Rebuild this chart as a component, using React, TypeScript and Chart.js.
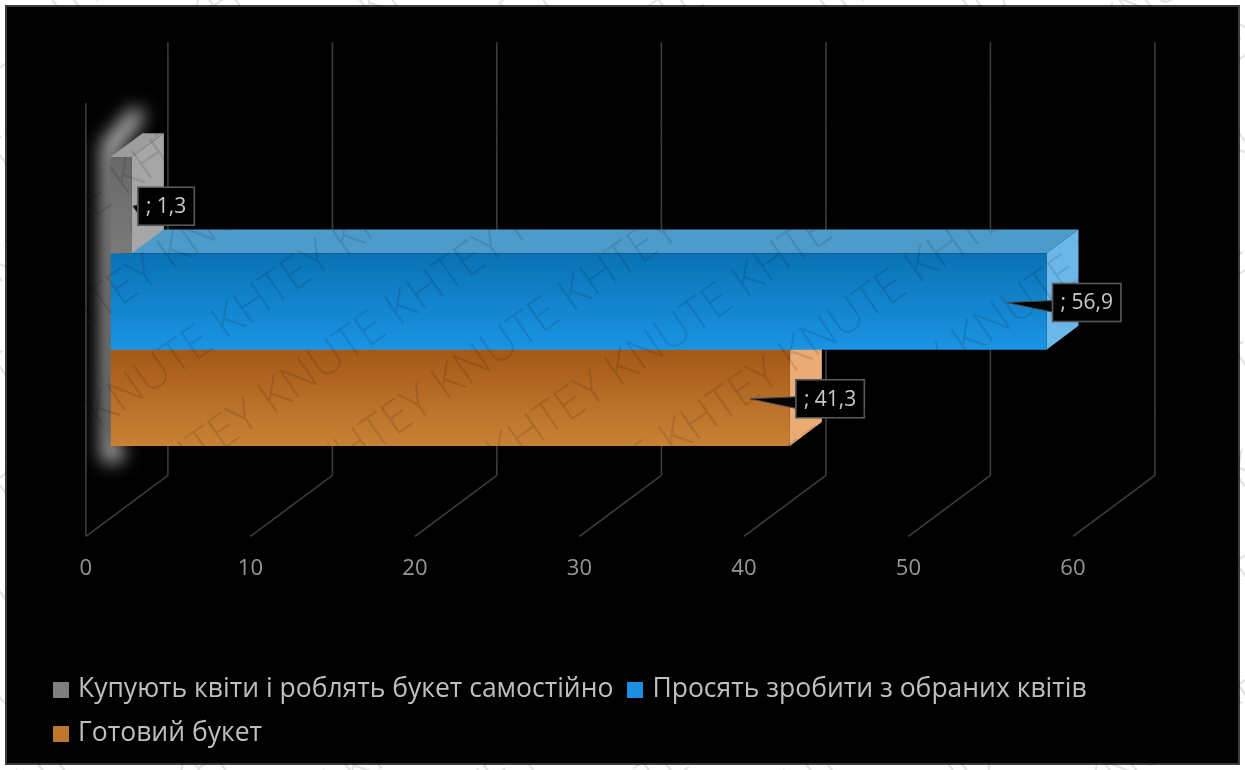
import React, { useEffect, useRef } from "react";
import { Chart, registerables } from "chart.js";

Chart.register(...registerables);

// ---------- data ----------
const categories = [""];
const seriesNames = [
  "Купують квіти і роблять букет самостійно",
  "Просять зробити з обраних квітів",
  "Готовий букет",
];
const seriesValues = [1.3, 56.9, 41.3];
const tickValues = [0, 10, 20, 30, 40, 50, 60];

// ---------- styles ----------
const FRONT_TOP = ["#686868", "#0a72b4", "#a45917"];
const FRONT_BOTTOM = ["#7a7a7a", "#1b94e4", "#c98136"];
const TOP_FACE = ["#9d9d9d", "#4c9bcb", "#cf8945"];
const SIDE_FACE = ["#a6a6a6", "#6cb7e9", "#eaab74"];
const LEGEND_COLOR = ["#7f7f7f", "#1d8fe0", "#c0752c"];

const FONT = "'Open Sans', 'DejaVu Sans', sans-serif";
const DEPTH = { x: 82, y: -61 };
const FRONT_SHIFT = 0.3;
const BAR_DEPTH = 0.39;
const CAT_PCT = 0.667;

function fmt(v: number) {
  return "; " + v.toFixed(1).replace(".", ",");
}

function frontFill(i: number) {
  return (c: any) => {
    const chart = c.chart;
    const a = chart.chartArea;
    if (!a || !chart.scales || !chart.scales.y) return FRONT_BOTTOM[i];
    const ys = chart.scales.y;
    const center = ys.getPixelForValue(c.dataIndex || 0);
    const band = ((a.bottom - a.top) / categories.length) * CAT_PCT;
    const h = band / seriesValues.length;
    const t = center - band / 2 + i * h;
    const g = chart.ctx.createLinearGradient(0, t, 0, t + h);
    g.addColorStop(0, FRONT_TOP[i]);
    g.addColorStop(1, FRONT_BOTTOM[i]);
    return g;
  };
}

function poly(ctx: CanvasRenderingContext2D, pts: number[][]) {
  ctx.beginPath();
  ctx.moveTo(pts[0][0], pts[0][1]);
  for (let k = 1; k < pts.length; k++) ctx.lineTo(pts[k][0], pts[k][1]);
  ctx.closePath();
}

function seg(ctx: CanvasRenderingContext2D, x1: number, y1: number, x2: number, y2: number) {
  ctx.beginPath();
  ctx.moveTo(x1, y1);
  ctx.lineTo(x2, y2);
  ctx.stroke();
}

const plugin3d = {
  id: "fake3d",
  beforeDatasetsDraw(chart: any) {
    const { ctx, chartArea: a, scales } = chart;
    const xs = scales.x;
    const fx = -DEPTH.x * FRONT_SHIFT;
    const fy = -DEPTH.y * FRONT_SHIFT;
    const bx = DEPTH.x * (1 - FRONT_SHIFT);
    const by = DEPTH.y * (1 - FRONT_SHIFT);
    const floorFront = a.bottom + fy;
    const floorBack = a.bottom + by;
    const topFront = a.top + fy;
    const topBack = a.top + by;

    ctx.save();
    ctx.strokeStyle = "#3d3d3d";
    ctx.lineWidth = 1.6;
    const x0 = xs.getPixelForValue(tickValues[0]);
    seg(ctx, x0 + fx, topFront, x0 + fx, floorFront);
    tickValues.forEach((v) => {
      const px = xs.getPixelForValue(v);
      seg(ctx, px + bx, topBack, px + bx, floorBack);
      seg(ctx, px + fx, floorFront, px + bx, floorBack);
    });
    ctx.restore();

    // bars geometry
    const els = chart.data.datasets.map((_: any, i: number) =>
      chart.getDatasetMeta(i).data[0].getProps(["x", "y", "base", "height"], true)
    );
    const dx = DEPTH.x * BAR_DEPTH;
    const dy = DEPTH.y * BAR_DEPTH;
    const T = els[0].y - els[0].height / 2;
    const last = els[els.length - 1];
    const B = last.y + last.height / 2;
    const gx = els[0].base;

    // soft glow on the left of the bar block
    ctx.save();
    ctx.filter = "blur(9px)";
    ctx.fillStyle = "rgba(215,215,215,0.85)";
    poly(ctx, [
      [gx - 9, T - 14],
      [gx + 22, T - 50],
      [gx + 36, T - 42],
      [gx + 6, T - 2],
      [gx + 4, B],
      [gx + 16, B + 2],
      [gx + 10, B + 16],
      [gx - 9, B + 16],
    ]);
    ctx.fill();
    ctx.restore();

    // top and side faces, drawn from the lowest bar up
    ctx.save();
    for (let i = els.length - 1; i >= 0; i--) {
      const e = els[i];
      const top = e.y - e.height / 2;
      const bot = e.y + e.height / 2;
      ctx.fillStyle = TOP_FACE[i];
      poly(ctx, [
        [e.base, top],
        [e.x, top],
        [e.x + dx, top + dy],
        [e.base + dx, top + dy],
      ]);
      ctx.fill();
      ctx.fillStyle = SIDE_FACE[i];
      poly(ctx, [
        [e.x, top],
        [e.x + dx, top + dy],
        [e.x + dx, bot + dy],
        [e.x, bot],
      ]);
      ctx.fill();
    }
    ctx.restore();
  },
  afterDatasetsDraw(chart: any) {
    const { ctx, chartArea: a, scales } = chart;
    const xs = scales.x;
    const fx = -DEPTH.x * FRONT_SHIFT;
    const fy = -DEPTH.y * FRONT_SHIFT;

    // axis tick labels on the front edge of the floor
    ctx.save();
    ctx.font = `22px ${FONT}`;
    ctx.fillStyle = "#989898";
    ctx.textAlign = "center";
    ctx.textBaseline = "middle";
    tickValues.forEach((v) => {
      ctx.fillText(String(v), xs.getPixelForValue(v) + fx, a.bottom + fy + 32);
    });
    ctx.restore();

    // data label callouts
    ctx.save();
    ctx.font = `21px ${FONT}`;
    chart.data.datasets.forEach((_: any, i: number) => {
      const e = chart.getDatasetMeta(i).data[0].getProps(["x", "y", "base"], true);
      const txt = fmt(seriesValues[i]);
      const tw = ctx.measureText(txt).width;
      const bw = tw + 16;
      const bh = 38;
      const left = e.x + 6;
      const cy = e.y + 1;
      const tipX = left - 46 > e.base + 10 ? left - 46 : e.x + 1;
      ctx.fillStyle = "#050505";
      ctx.strokeStyle = "#4a4a4a";
      ctx.lineWidth = 1;
      poly(ctx, [
        [tipX, cy],
        [left + 2, cy - 2],
        [left + 2, cy + 10],
      ]);
      ctx.fill();
      ctx.stroke();
      ctx.fillStyle = "#000";
      ctx.fillRect(left, cy - bh / 2, bw, bh);
      ctx.strokeStyle = "#5a5a5a";
      ctx.lineWidth = 1.6;
      ctx.strokeRect(left, cy - bh / 2, bw, bh);
      ctx.fillStyle = "#cacaca";
      ctx.textAlign = "center";
      ctx.textBaseline = "middle";
      ctx.fillText(txt, left + bw / 2, cy + 1);
    });
    ctx.restore();
  },
  afterDraw(chart: any) {
    const { ctx, width, height } = chart;
    ctx.save();
    ctx.font = `300 46px ${FONT}`;
    ctx.fillStyle = "rgba(0,0,0,0.11)";
    ctx.translate(width / 2, height / 2);
    ctx.rotate((-35 * Math.PI) / 180);
    const unit = "KHTEY KNUTE ";
    const uw = ctx.measureText(unit).width;
    for (let r = -11; r <= 11; r++) {
      const yy = r * 88;
      const shift = (Math.abs(r) % 2) * (uw / 2);
      for (let k = -7; k <= 7; k++) ctx.fillText(unit, k * uw + shift - uw / 2, yy);
    }
    ctx.restore();
  },
};

export default function App() {
  const ref = useRef<HTMLCanvasElement>(null);

  useEffect(() => {
    const chart = new Chart(ref.current as HTMLCanvasElement, {
      type: "bar",
      data: {
        labels: categories,
        datasets: seriesNames.map((name, i) => ({
          label: name,
          data: [seriesValues[i]],
          backgroundColor: frontFill(i),
          borderWidth: 0,
          categoryPercentage: CAT_PCT,
          barPercentage: 1,
        })),
      },
      options: {
        indexAxis: "y",
        responsive: false,
        animation: false,
        devicePixelRatio: 1,
        layout: { padding: { left: 110.5, right: 147.5, top: 85, bottom: 252 } },
        scales: {
          x: { display: false, min: 0, max: 60 },
          y: { display: false },
        },
        plugins: { legend: { display: false }, tooltip: { enabled: false } },
      } as any,
      plugins: [plugin3d as any],
    });
    return () => chart.destroy();
  }, []);

  return (
    <div
      style={{
        position: "absolute",
        left: 0,
        top: 0,
        width: 1245,
        height: 770,
        background: "#fff",
        overflow: "hidden",
      }}
    >
      <div
        style={{
          position: "absolute",
          left: 5,
          top: 5,
          width: 1235,
          height: 760,
          background: "#000",
          border: "2px solid #3c3c3c",
          boxSizing: "border-box",
        }}
      />
      <canvas
        ref={ref}
        width={1245}
        height={770}
        style={{ position: "absolute", left: 0, top: 0 }}
      />
      <div
        style={{
          position: "absolute",
          left: 53,
          top: 672,
          width: 1130,
          display: "flex",
          flexWrap: "wrap",
          columnGap: 14,
          rowGap: 14,
          fontFamily: FONT,
          fontSize: 26.5,
          lineHeight: "30px",
          color: "#bfbfbf",
        }}
      >
        {seriesNames.map((n, i) => (
          <div key={i} style={{ display: "flex", alignItems: "flex-start", whiteSpace: "nowrap" }}>
            <span
              style={{
                display: "inline-block",
                width: 16,
                height: 16,
                marginTop: 10,
                marginRight: 9,
                background: LEGEND_COLOR[i],
              }}
            />
            {n}
          </div>
        ))}
      </div>
    </div>
  );
}
